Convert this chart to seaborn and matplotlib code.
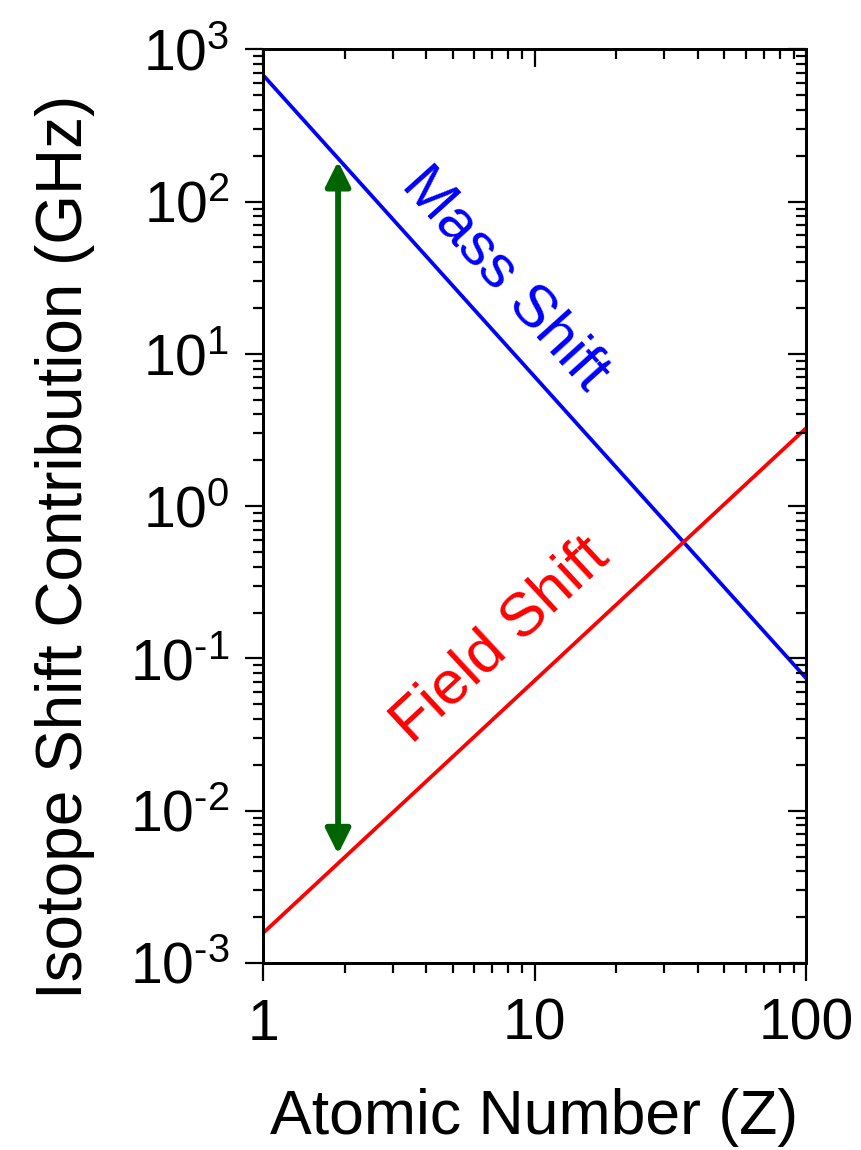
import matplotlib
matplotlib.use("Agg")
import matplotlib.pyplot as plt
from matplotlib.patches import ArrowStyle
import seaborn as sns
import pandas as pd

# ---- data ----
atomic_number = [1, 100]
mass_shift = [678, 0.0743]
field_shift = [0.00157, 3.25]
arrow_z = [1.89, 1.89]
arrow_span = [0.00519, 184]
x_ticks = [1, 10, 100]
x_tick_labels = ["1", "10", "100"]
y_ticks = [1e-3, 1e-2, 1e-1, 1e0, 1e1, 1e2, 1e3]
y_tick_labels = [r"$\mathregular{10^{\text{-}3}}$", r"$\mathregular{10^{\text{-}2}}$",
                 r"$\mathregular{10^{\text{-}1}}$",
                 r"$\mathregular{10^{0}}$", r"$\mathregular{10^{1}}$", r"$\mathregular{10^{2}}$",
                 r"$\mathregular{10^{3}}$"]
series_names = ["Mass Shift", "Field Shift"]
series_colors = ["#0000ff", "#ff0000"]

sns.set_theme(style="ticks")
plt.rcParams["font.family"] = ["Liberation Sans", "DejaVu Sans"]
plt.rcParams["mathtext.fontset"] = "custom"
plt.rcParams["mathtext.rm"] = "Liberation Sans"
plt.rcParams["mathtext.it"] = "Liberation Sans:italic"
plt.rcParams["mathtext.bf"] = "Liberation Sans:bold"
for key in ["text.color", "axes.labelcolor", "xtick.color", "ytick.color", "axes.edgecolor"]:
    plt.rcParams[key] = "black"

df = pd.DataFrame({
    "Z": atomic_number * 2,
    "value": mass_shift + field_shift,
    "series": [series_names[0]] * len(atomic_number) + [series_names[1]] * len(atomic_number),
})

fig = plt.figure(figsize=(8.61, 11.5), dpi=100)
ax = fig.add_axes([263 / 861, 1 - 963 / 1150, 543 / 861, 913.7 / 1150])
ax.set_xscale("log")
ax.set_yscale("log")

sns.lineplot(data=df, x="Z", y="value", hue="series", palette=dict(zip(series_names, series_colors)),
             linewidth=2.7, legend=False, ax=ax)

ax.set_xlim(1, 100)
ax.set_ylim(1e-3, 1e3)

# double arrow
ax.annotate("", xy=(arrow_z[1], arrow_span[1]), xytext=(arrow_z[0], arrow_span[0]),
            arrowprops=dict(arrowstyle=ArrowStyle("<|-|>", head_length=15, head_width=7.5),
                            mutation_scale=1, color="#006400", lw=4.2,
                            shrinkA=0, shrinkB=0))

ax.text(7.79, 31, "Mass Shift", color=series_colors[0], fontsize=43, rotation=-48,
        rotation_mode="anchor", ha="center", va="center")
ax.text(7.5, 0.13, "Field Shift", color=series_colors[1], fontsize=44, rotation=42.9,
        rotation_mode="anchor", ha="center", va="center")

ax.set_xticks(x_ticks)
ax.set_xticklabels(x_tick_labels)
ax.set_yticks(y_ticks)
ax.set_yticklabels(y_tick_labels)

ax.tick_params(which="both", direction="out", top=False, right=False, width=1.6, color="black")
ax.tick_params(which="major", length=13, labelsize=41, pad=11)
ax.tick_params(which="minor", length=7)
ax.tick_params(axis="x", which="major", pad=12)
for s in ax.spines.values():
    s.set_linewidth(1.9)
    s.set_color("black")

ax.set_xlabel("Atomic Number (Z)", fontsize=45, labelpad=26)
ax.set_ylabel("Isotope Shift Contribution (GHz)", fontsize=46, labelpad=25, y=0.455)

# mirrored inward ticks on top and right
axt = ax.twiny()
axt.set_xscale("log")
axt.set_xlim(ax.get_xlim())
axt.set_xticks(x_ticks)
axt.tick_params(axis="x", which="both", direction="in", top=True, bottom=False,
                labeltop=False, width=1.6, color="black")
axt.tick_params(axis="x", which="major", length=13)
axt.tick_params(axis="x", which="minor", length=7)

axr = ax.twinx()
axr.set_yscale("log")
axr.set_ylim(ax.get_ylim())
axr.set_yticks(y_ticks)
axr.tick_params(axis="y", which="both", direction="in", right=True, left=False,
                labelright=False, width=1.6, color="black")
axr.tick_params(axis="y", which="major", length=13)
axr.tick_params(axis="y", which="minor", length=7)
for a in (axt, axr):
    for s in a.spines.values():
        s.set_linewidth(1.9)
        s.set_color("black")

fig.savefig("out.png", dpi=100, facecolor="white")
